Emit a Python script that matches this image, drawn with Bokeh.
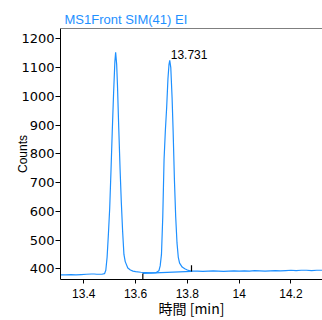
from bokeh.plotting import figure
from bokeh.models import Range1d, FixedTicker, CustomJSTickFormatter, Span
from bokeh.embed import file_html
from bokeh.resources import INLINE

# chromatogram (time [min], counts)
time = [13.312, 13.33, 13.35, 13.37, 13.39, 13.41, 13.43, 13.44, 13.45, 13.47,
        13.48, 13.485, 13.49, 13.495, 13.50, 13.505, 13.51, 13.515, 13.52, 13.523,
        13.527, 13.53, 13.535, 13.54, 13.545, 13.55, 13.555, 13.56, 13.57, 13.58,
        13.59, 13.60, 13.62, 13.64, 13.66, 13.68, 13.69, 13.695, 13.70, 13.705,
        13.71, 13.715, 13.72, 13.725, 13.729, 13.732, 13.736, 13.741, 13.745, 13.75,
        13.755, 13.76, 13.765, 13.77, 13.78, 13.79, 13.80, 13.81, 13.816, 13.82,
        13.84, 13.86, 13.88, 13.90, 13.92, 13.94, 13.96, 13.98, 14.00, 14.02,
        14.04, 14.06, 14.08, 14.10, 14.12, 14.14, 14.16, 14.18, 14.20, 14.22,
        14.24, 14.26, 14.28, 14.30, 14.32]
counts = [379, 379, 380, 379, 380, 381, 382, 382, 381, 381,
          383, 395, 440, 520, 610, 740, 880, 1010, 1120, 1153,
          1110, 1040, 890, 750, 630, 530, 450, 425, 403, 396,
          392, 390, 388, 387, 386, 387, 393, 410, 450, 580,
          780, 880, 960, 1060, 1110, 1125, 1100, 996, 880, 710,
          580, 490, 440, 420, 406, 400, 396, 393, 391, 392,
          392, 391, 392, 393, 392, 391, 392, 393, 392, 393,
          392, 394, 393, 392, 393, 394, 393, 394, 395, 394,
          395, 395, 394, 395, 395]

# integration baseline and peak markers
base_t = [13.628, 13.816]
base_c = [384, 391]
marker_t = [13.628, 13.816]
marker_lo = [362, 391]
marker_hi = [384, 412]

peak_t = [13.732]
peak_c = [1125]
peak_label = ["13.731"]

x_ticks = [13.4, 13.6, 13.8, 14.0, 14.2]
y_ticks = [400, 500, 600, 700, 800, 900, 1000, 1100, 1200]

blue = "#1e90ff"
y_top = 1235.8

p = figure(width=322, height=320, output_backend="svg", toolbar_location=None,
           x_range=Range1d(13.31, 14.322), y_range=Range1d(362.8, y_top),
           min_border_left=60, min_border_right=0, min_border_top=28, min_border_bottom=0,
           title="MS1Front SIM(41) EI")
p.title.text_font = "Liberation Sans"
p.title.text_font_size = "13px"
p.title.text_font_style = "normal"
p.title.text_color = blue
p.title.align = "left"
p.title.offset = 4
p.title.standoff = 4

p.outline_line_color = None
p.xgrid.visible = False
p.ygrid.visible = False
p.background_fill_color = "white"
p.border_fill_color = "white"

p.add_layout(Span(location=y_top, dimension="width", line_color="black", line_width=1))

for ax in (p.xaxis[0], p.yaxis[0]):
    ax.axis_line_color = "black"
    ax.major_tick_line_color = "black"
    ax.minor_tick_line_color = None
    ax.major_tick_in = 0
    ax.major_label_text_color = "black"
    ax.axis_label_text_font_style = "normal"
    ax.axis_label_text_color = "black"

p.xaxis.ticker = FixedTicker(ticks=x_ticks)
p.xaxis.formatter = CustomJSTickFormatter(code="return String(Number(tick.toFixed(1)));")
p.xaxis.major_label_text_font = "Liberation Sans"
p.xaxis.major_label_text_font_size = "12px"
p.xaxis.major_tick_out = 4
p.xaxis.major_label_standoff = 5
p.xaxis.axis_label = "時間 [min]"
p.xaxis.axis_label_text_font = "Noto Sans CJK JP"
p.xaxis.axis_label_text_font_size = "14px"
p.xaxis.axis_label_standoff = -3

p.yaxis.ticker = FixedTicker(ticks=y_ticks)
p.yaxis.major_label_text_font = "DejaVu Sans"
p.yaxis.major_label_text_font_size = "13px"
p.yaxis.major_tick_out = 5
p.yaxis.major_label_standoff = 1
p.yaxis.axis_label = "Counts"
p.yaxis.axis_label_text_font = "Liberation Sans"
p.yaxis.axis_label_text_font_size = "12px"
p.yaxis.axis_label_standoff = -12

p.line(time, counts, line_color=blue, line_width=1.2)
p.line(base_t, base_c, line_color=blue, line_width=1.2)
p.segment(x0=marker_t, y0=marker_lo, x1=marker_t, y1=marker_hi, line_color="black", line_width=1.2)
p.text(x=peak_t, y=peak_c, text=peak_label, text_font_size="12px", text_color="black",
       text_baseline="bottom", text_align="left", x_offset=1, y_offset=-1,
       text_font={"value": "Liberation Sans"})

open("out.html", "w").write(file_html(p, INLINE))
